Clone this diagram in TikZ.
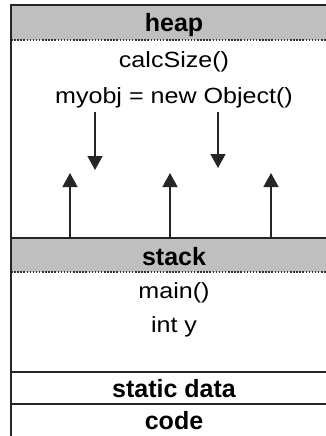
\documentclass[tikz,border=0pt]{standalone}
\usepackage{fontspec}
\setmainfont{Liberation Sans}
\newfontfamily\entryfont[FakeStretch=1.14]{Liberation Sans}
\usetikzlibrary{arrows.meta}
\usetikzlibrary{positioning}
\tikzset{%
  frame/.style    = {draw=black!85, line width=1.6pt},
  band/.style     = {fill=black!25}, % section header
  sepline/.style  = {draw=black!80, line width=1.2pt, dash pattern=on 1.5pt off 1.6pt},
  title/.style    = {anchor=base, inner sep=0pt, font=\fontsize{25}{25}\selectfont\bfseries},
  entry/.style    = {anchor=base, inner sep=0pt, font=\entryfont\fontsize{22}{24}\selectfont},
  ptr/.style      = {draw=black!85, line width=1.6pt, -{Triangle[width=15pt,length=14pt]}}
}
\begin{document}
\begin{tikzpicture}[x=1pt, y=-1pt]
    \useasboundingbox (0,0) rectangle (326,436);
    \clip (0,0) rectangle (326,436);
    % grey header bands
    \fill[band] (11,5) rectangle (340,40);
    \fill[band] (11,238) rectangle (340,272);
    \draw[sepline] (11,40) -- (340,40);
    \draw[sepline] (11,272) -- (340,272);
    % outline and section borders
    \draw[frame] (340,5) -- (11,5) -- (11,450);
    \draw[frame] (11,238) -- (340,238);
    \draw[frame] (11,372) -- (340,372);
    \draw[frame] (11,404) -- (340,404);
    % labels
    \node[title] (heap) at (174,31.5) {heap};
    \node[entry] (calc) at (174,67) {calcSize()};
    \node[entry] (myobj) at (174,103) {myobj = new Object()};
    \node[title] (stack) at (174,265) {stack};
    \node[entry] (mainf) at (174,298) {main()};
    \node[entry] (inty) at (174,332) {int y};
    \node[title] (static) at (174,397) {static data};
    \node[title] (code) at (174,429) {code};
    % heap grows down, stack grows up
    \coordinate (down1) at (95,112);   \coordinate (down1end) at (95,170);
    \coordinate (down2) at (218,112);  \coordinate (down2end) at (218,168);
    \coordinate (up1) at (70,238);     \coordinate (up1end) at (70,173);
    \coordinate (up2) at (170,238);    \coordinate (up2end) at (170,173);
    \coordinate (up3) at (271,238);    \coordinate (up3end) at (271,173);
    \draw[ptr] (down1) -- (down1end);
    \draw[ptr] (down2) -- (down2end);
    \draw[ptr] (up1) -- (up1end);
    \draw[ptr] (up2) -- (up2end);
    \draw[ptr] (up3) -- (up3end);
\end{tikzpicture}
\end{document}
